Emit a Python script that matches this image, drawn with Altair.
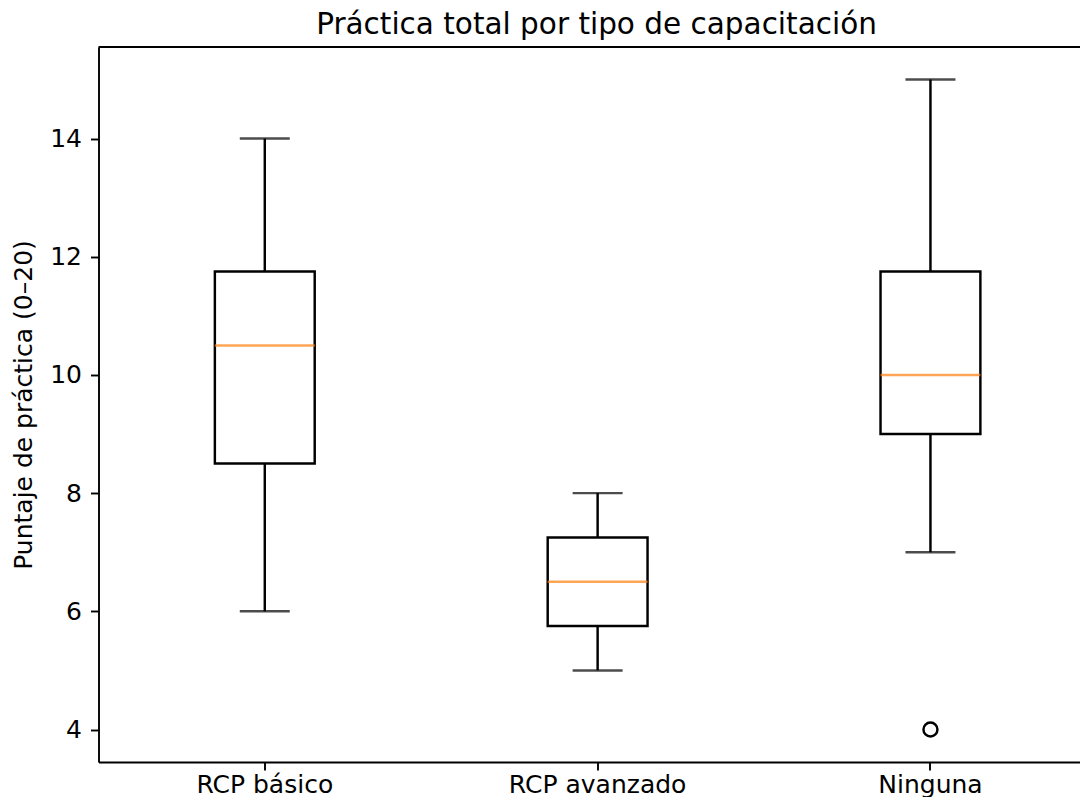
import altair as alt
import pandas as pd

groups = ["RCP básico", "RCP avanzado", "Ninguna"]
whisker_low = [6, 5, 7]
q1 = [8.5, 5.75, 9]
median = [10.5, 6.5, 10]
q3 = [11.75, 7.25, 11.75]
whisker_high = [14, 8, 15]
outlier_group = ["Ninguna"]
outlier_value = [4]
y_ticks = [4, 6, 8, 10, 12, 14]

stats = pd.DataFrame({
    "grupo": groups, "lo": whisker_low, "q1": q1, "med": median,
    "q3": q3, "hi": whisker_high,
})
outs = pd.DataFrame({"grupo": outlier_group, "valor": outlier_value})

FONT = "DejaVu Sans"
LW = 2.45
VIEW_W = 981
VIEW_H = 715
FS = 25

# band layout: step ~333 px, box width 0.3 step, first centre half a step in
xscale = alt.Scale(domain=groups, paddingInner=0.7, paddingOuter=0.3237, align=0.54)
xenc = alt.X("grupo:N", sort=groups, title=None, scale=xscale,
             axis=alt.Axis(labelAngle=0, labelFontSize=FS, labelFont=FONT,
                           labelColor="black", tickColor="black", tickSize=8,
                           tickWidth=1.9, labelPadding=2, domain=True,
                           domainColor="black", domainWidth=1.9,
                           bandPosition=0.5))
yscale = alt.Scale(domain=[3.45, 15.55], nice=False, zero=False)
yaxis = alt.Axis(values=y_ticks, format="d", labelFontSize=FS, labelFont=FONT,
                 labelColor="black", tickColor="black", tickSize=8, tickWidth=1.9,
                 labelPadding=9, domain=True, domainColor="black", domainWidth=1.9,
                 grid=False,
                 title="Puntaje de práctica (0–20)", titleFont=FONT,
                 titleFontSize=FS, titleFontWeight="normal", titleColor="black",
                 titlePadding=13)

base = alt.Chart(stats)
w_low = base.mark_rule(color="black", strokeWidth=LW).encode(
    x=xenc, y=alt.Y("lo:Q", scale=yscale, axis=yaxis), y2="q1:Q")
w_high = base.mark_rule(color="black", strokeWidth=LW).encode(
    x=xenc, y=alt.Y("q3:Q", scale=yscale), y2="hi:Q")
box = base.mark_bar(fill="white", stroke="black", strokeWidth=LW).encode(
    x=xenc, y=alt.Y("q1:Q", scale=yscale), y2="q3:Q")
med = base.mark_tick(color="#ff7f0e", thickness=LW, size=100).encode(
    x=xenc, y=alt.Y("med:Q", scale=yscale))
cap_lo = base.mark_tick(color="black", thickness=LW, size=50).encode(
    x=xenc, y=alt.Y("lo:Q", scale=yscale))
cap_hi = base.mark_tick(color="black", thickness=LW, size=50).encode(
    x=xenc, y=alt.Y("hi:Q", scale=yscale))
pts = alt.Chart(outs).mark_point(shape="circle", filled=False, color="black",
                                 strokeWidth=LW, size=196, opacity=1).encode(
    x=alt.X("grupo:N", sort=groups, scale=xscale),
    y=alt.Y("valor:Q", scale=yscale))
top_spine = alt.Chart(pd.DataFrame({"s": [0]})).mark_rule(
    color="black", strokeWidth=1.9).encode(
    y=alt.value(0), x=alt.value(0), x2=alt.value(VIEW_W + 10))

chart = alt.layer(w_low, w_high, box, med, cap_lo, cap_hi, pts, top_spine).properties(
    width=VIEW_W, height=VIEW_H,
    title=alt.TitleParams("Práctica total por tipo de capacitación", font=FONT,
                          fontSize=29.5, fontWeight="normal", color="black",
                          offset=6, frame="group", dx=7.5),
    padding={"left": 90.5, "top": 39, "right": 0, "bottom": 35},
    autosize=alt.AutoSizeParams(type="none"),
).configure(background="white").configure_view(stroke=None)

chart.save("out.html", embed_options={"renderer": "svg", "actions": False})
